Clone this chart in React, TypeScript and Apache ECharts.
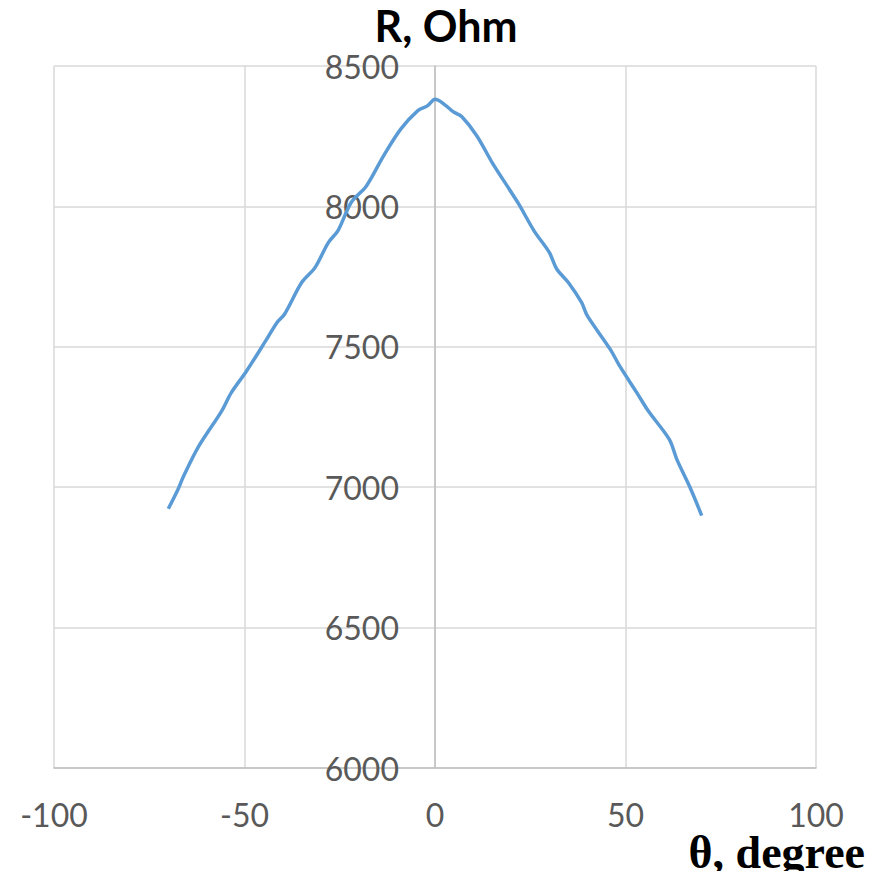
import React, { useEffect, useRef } from "react";
import * as echarts from "echarts";

const angles = [-70, -67.5, -66, -62, -56, -53.5, -49.5, -44.5, -41.5, -39.5, -35, -31.5, -28, -25.5, -22, -18, -13.5, -9, -4.5, -2, 0, 5, 7, 11, 15, 19.5, 22, 26, 30, 32, 35, 38.5, 40, 46, 48.5, 53, 56, 61.5, 63.5, 67, 70];
const resistance = [6923, 6991, 7039, 7146, 7271, 7336, 7413, 7520, 7586, 7616, 7729, 7782, 7871, 7913, 8014, 8073, 8180, 8275, 8341, 8358, 8382, 8335, 8320, 8251, 8156, 8061, 8008, 7913, 7836, 7776, 7729, 7657, 7610, 7491, 7431, 7336, 7271, 7170, 7098, 6997, 6899];

const yTitle = "R, Ohm";
const xTitle = "θ, degree";

const GRID_LEFT = 54;
const GRID_RIGHT = 78;
const CHART_W = 894;

export default function App() {
  const ref = useRef<HTMLDivElement>(null);
  useEffect(() => {
    if (!ref.current) return;
    const chart = echarts.init(ref.current, null, { renderer: "svg" });
    const data = angles.map((a, i) => [a, resistance[i]]);
    const plotW = CHART_W - GRID_LEFT - GRID_RIGHT;
    chart.setOption({
      animation: false,
      backgroundColor: "#ffffff",
      grid: {
        left: GRID_LEFT,
        right: GRID_RIGHT,
        top: 66,
        bottom: 111,
        containLabel: false,
        outerBoundsMode: "none",
      },
      xAxis: {
        type: "value",
        min: -100,
        max: 100,
        interval: 50,
        axisLine: { show: true, onZero: false, lineStyle: { color: "#bfbfbf", width: 1.5 } },
        axisTick: { show: false },
        axisLabel: { color: "#595959", fontSize: 32, lineHeight: 26, fontFamily: "Lato", margin: 33 },
        splitLine: { show: true, lineStyle: { color: "#d9d9d9", width: 1.5 } },
      },
      yAxis: {
        type: "value",
        min: 6000,
        max: 8500,
        interval: 500,
        position: "left",
        offset: -plotW / 2,
        axisLine: { show: true, onZero: false, lineStyle: { color: "#bfbfbf", width: 1.5 } },
        axisTick: { show: false },
        axisLabel: {
          color: "#595959",
          fontSize: 32,
          fontFamily: "Lato",
          margin: 36,
          formatter: (v: number) => String(v),
        },
        splitLine: { show: true, lineStyle: { color: "#d9d9d9", width: 1.5 } },
      },
      graphic: [
        {
          type: "text",
          x: 446,
          y: 25,
          style: {
            text: yTitle,
            fill: "#000000",
            font: "bold 43px Lato",
            textAlign: "center",
            textVerticalAlign: "middle",
          },
        },
        {
          type: "text",
          x: 865,
          y: 852,
          style: {
            text: xTitle,
            fill: "#000000",
            font: "bold 46px 'Liberation Serif'",
            lineHeight: 34,
            textAlign: "right",
            textVerticalAlign: "middle",
          },
        },
      ],
      series: [
        {
          type: "line",
          data,
          smooth: 0.3,
          showSymbol: false,
          lineStyle: { color: "#5b9bd5", width: 3.5 },
        },
      ],
    });
    return () => chart.dispose();
  }, []);
  return <div ref={ref} style={{ width: 894, height: 879, margin: -8 }} />;
}
